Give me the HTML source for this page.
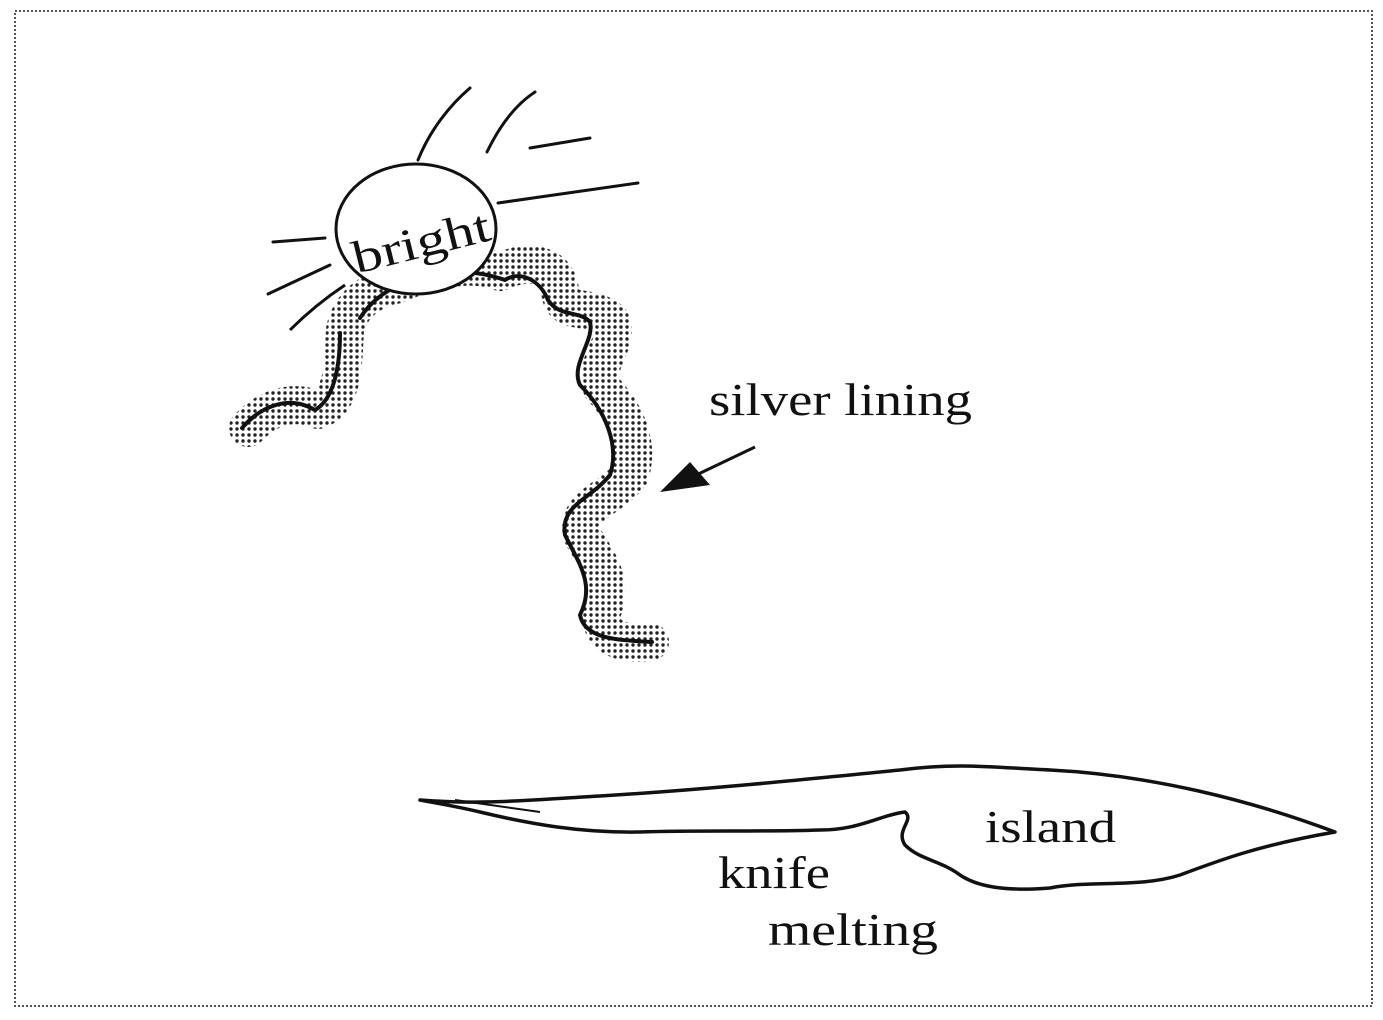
<!DOCTYPE html>
<html><head><style>
html,body{margin:0;padding:0;background:#fff}
svg{display:block}
text{font-family:"Liberation Serif",serif;fill:#111}
</style></head><body>
<svg width="1383" height="1020" viewBox="0 0 1383 1020" xmlns="http://www.w3.org/2000/svg">
<defs>
<pattern id="dots" width="6" height="6" patternUnits="userSpaceOnUse">
<rect width="6" height="6" fill="#fff"/>
<circle cx="3" cy="3" r="1.7" fill="#222"/>
</pattern>
</defs>
<rect x="15" y="11" width="1357" height="995" fill="none" stroke="#555" stroke-width="2" stroke-dasharray="2 2"/>
<g stroke="#111" stroke-width="3" fill="none" stroke-linecap="round">
<path d="M418,160 C430,130 450,105 470,88"/>
<path d="M487,152 C500,125 515,105 535,92"/>
<path d="M530,148 L590,138"/>
<path d="M498,203 L638,183"/>
<path d="M273,242 L325,238"/>
<path d="M268,294 L330,265"/>
</g>
<path d="M248,428 C265,410 290,398 318,410 C345,400 343,360 345,330 C350,305 370,290 395,285 C430,270 470,260 500,272 C520,262 555,258 560,290 C562,318 588,302 610,320 C622,342 592,362 602,388 C625,412 640,442 630,475 C610,500 575,505 582,535 C597,560 615,582 602,612 C598,640 628,645 650,642" fill="none" stroke="url(#dots)" stroke-width="38" stroke-linecap="round" stroke-linejoin="round"/>
<path d="M242,428 C262,405 290,395 315,410 C336,398 340,360 340,333 M360,318 C375,295 395,285 420,278 C450,272 470,268 505,280 C520,270 540,280 548,300 C560,318 580,310 590,322 C595,340 570,365 580,385 C605,410 620,445 610,475 C590,500 560,505 565,535 C580,565 595,585 580,615 C585,640 620,640 652,642" fill="none" stroke="#111" stroke-width="4" stroke-linecap="round"/>
<path d="M290,330 C310,310 330,295 345,285" fill="none" stroke="#111" stroke-width="3"/>
<ellipse cx="416" cy="229" rx="80" ry="65" fill="#fff" stroke="#111" stroke-width="3"/>
<text x="348" y="258" font-size="46" textLength="140" lengthAdjust="spacingAndGlyphs" transform="rotate(-14 416 229)">bright</text>
<line x1="755" y1="447" x2="690" y2="478" stroke="#111" stroke-width="3"/>
<polygon points="660,492 690,462 710,485" fill="#111"/>
<text x="709" y="415" font-size="46" textLength="263" lengthAdjust="spacingAndGlyphs">silver lining</text>
<path d="M420,800 C480,805 530,800 600,796 C700,790 800,780 900,770 C960,762 1000,768 1050,770 C1150,775 1250,800 1335,832 C1260,845 1220,860 1180,875 C1140,888 1090,880 1050,888 C1000,892 975,885 960,875 C940,860 920,860 905,845 C895,830 915,820 905,812 C880,815 860,830 820,830 C760,832 700,830 640,832 C580,833 530,824 480,812 C455,806 435,803 420,800 Z" fill="none" stroke="#111" stroke-width="3.5" stroke-linejoin="round"/>
<path d="M455,800 L540,812" stroke="#111" stroke-width="2"/>
<text x="985" y="842" font-size="46" textLength="131" lengthAdjust="spacingAndGlyphs">island</text>
<text x="718" y="888" font-size="46" textLength="112" lengthAdjust="spacingAndGlyphs">knife</text>
<text x="768" y="945" font-size="46" textLength="170" lengthAdjust="spacingAndGlyphs">melting</text>
</svg>
</body></html>
